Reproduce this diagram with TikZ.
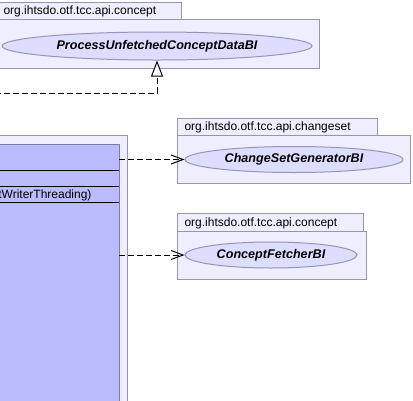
\documentclass[tikz,border=0pt]{standalone}
\usepackage{fontspec}
\setmainfont{Liberation Sans}
\usetikzlibrary{shapes.geometric,arrows.meta,positioning}
\definecolor{pkgfill}{RGB}{238,238,255}
\definecolor{pkgline}{RGB}{150,150,180}
\definecolor{ifacefill}{RGB}{221,221,255}
\definecolor{classfill}{RGB}{187,187,255}
\definecolor{classline}{RGB}{125,125,160}
\newcommand{\pkgname}[1]{\fontsize{12}{14}\selectfont #1}

\begin{document}
\begin{tikzpicture}[x=1pt,y=-1pt,line width=1pt,
    pkgbox/.style={draw=pkgline,fill=pkgfill},
    pkglabel/.style={anchor=base west,inner sep=0pt},
    iface/.style={ellipse,draw=pkgline,fill=ifacefill,inner sep=0pt,minimum height=26pt,
      font=\fontsize{12.6}{15}\selectfont\bfseries\itshape},
    depend/.style={dash pattern=on 6pt off 3pt,-{Straight Barb[length=12pt,width=9pt]}},
    realize/.style={dash pattern=on 6pt off 3pt,-{Triangle[open,fill=white,length=16pt,width=12pt]}}]
    \useasboundingbox (0,0) rectangle (413,400);
    \clip (0,0) rectangle (413,400);

    % packages
    \draw[pkgbox] (-4,2) rectangle (181,19);
    \draw[pkgbox] (-4,19) rectangle (319,68);
    \node[pkglabel] (pkgConceptTop) at (3,14.5) {\pkgname{org.ihtsdo.otf.tcc.api.concept}};
    \draw[pkgbox] (177,118) rectangle (377,135);
    \draw[pkgbox] (177,135) rectangle (410,183);
    \node[pkglabel] (pkgChangeset) at (184,130.5) {\pkgname{org.ihtsdo.otf.tcc.api.changeset}};
    \draw[pkgbox] (177,213) rectangle (363,231);
    \draw[pkgbox] (177,231) rectangle (366,279);
    \node[pkglabel] (pkgFetcher) at (184,226.5) {\pkgname{org.ihtsdo.otf.tcc.api.concept}};
    \draw[pkgbox] (-10,135) rectangle (127,410);

    % interfaces
    \node[iface,minimum width=310pt,minimum height=28pt] (processBI) at (157,46) {ProcessUnfetchedConceptDataBI};
    \node[iface,minimum width=218pt] (changeSetBI) at (294,159.5) {ChangeSetGeneratorBI};
    \node[iface,minimum width=172pt] (fetcherBI) at (271,255) {ConceptFetcherBI};

    % class
    \node[draw=classline,fill=classfill,anchor=north west,inner sep=0pt,outer sep=0pt,
      minimum width=129pt,minimum height=270pt] (writerClass) at (-10,144) {};
    \foreach \y in {170,186,202}
      \draw (writerClass.west |- 0,\y) -- (writerClass.east |- 0,\y);
    \node[anchor=base east,inner sep=0pt] (commitOp) at (92,198.5)
      {\pkgname{commit(ChangeSetGenerationPolicy, ChangeSetWriterThreading)}};

    % relations
    \coordinate (realizeSrc) at (-5,93);
    \draw[realize] (realizeSrc) -| (processBI.south);
    \draw[depend] (writerClass.east |- changeSetBI.west) -- (changeSetBI.west);
    \draw[depend] (writerClass.east |- fetcherBI.west) -- (fetcherBI.west);
\end{tikzpicture}
\end{document}
